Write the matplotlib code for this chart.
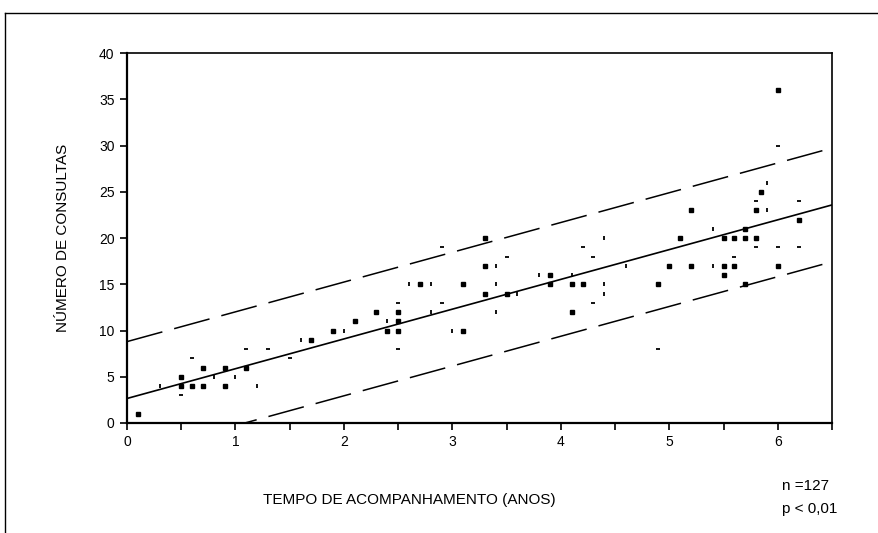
import numpy as np
import matplotlib
matplotlib.use("Agg")
import matplotlib.pyplot as plt
from matplotlib.lines import Line2D

plt.rcParams['font.family'] = ['Liberation Sans', 'DejaVu Sans']

# points printed as filled squares
sq_x = [0.1, 0.5, 0.5, 0.6, 0.7, 0.7, 0.9, 0.9, 1.1, 1.7, 1.9, 2.1, 2.3, 2.4,
        2.5, 2.5, 2.5, 2.7, 3.1, 3.1, 3.3, 3.3, 3.3, 3.5, 3.9, 3.9, 4.1, 4.1,
        4.2, 4.9, 5.0, 5.1, 5.2, 5.2, 5.5, 5.5, 5.5, 5.6, 5.6, 5.7, 5.7, 5.7,
        5.8, 5.8, 5.85, 6.0, 6.0, 6.2]
sq_y = [1, 5, 4, 4, 6, 4, 6, 4, 6, 9, 10, 11, 12, 10,
        12, 11, 10, 15, 15, 10, 20, 17, 14, 14, 16, 15, 15, 12,
        15, 15, 17, 20, 23, 17, 20, 17, 16, 20, 17, 21, 20, 15,
        20, 23, 25, 36, 17, 22]

# points printed as small vertical ticks
tk_x = [0.3, 0.8, 1.0, 1.2, 1.6, 2.0, 2.4, 2.6, 2.8, 2.8, 3.0, 3.4, 3.4, 3.4,
        3.6, 3.8, 4.1, 4.4, 4.4, 4.4, 4.6, 5.4, 5.4, 5.9, 5.9]
tk_y = [4, 5, 5, 4, 9, 10, 11, 15, 15, 12, 10, 17, 15, 12,
        14, 16, 16, 20, 15, 14, 17, 21, 17, 26, 23]

# points printed as small horizontal dashes
ds_x = [0.5, 0.6, 1.1, 1.3, 1.5, 2.5, 2.5, 2.9, 2.9, 3.5, 4.2, 4.3, 4.3,
        4.9, 5.6, 5.8, 5.8, 6.0, 6.0, 6.2, 6.2]
ds_y = [3, 7, 8, 8, 7, 13, 8, 19, 13, 18, 19, 18, 13,
        8, 18, 24, 19, 30, 19, 24, 19]

# fitted line and prediction band
intercept = 2.65
slope = 3.22
band = 6.15

x_ticks = np.arange(0, 6.51, 0.5)
x_labels = [str(int(t)) if t == int(t) else '' for t in x_ticks]
y_ticks = np.arange(0, 41, 5)

fig = plt.figure(figsize=(8.79, 5.33), dpi=100)
ax = fig.add_axes([0.1445, 0.2064, 0.802, 0.694])

xx = np.linspace(0, 6.5, 200)
fit = intercept + slope * xx
ax.plot(xx, fit, color='black', lw=1.2)
ax.plot(xx, fit + band, color='black', lw=1.1, dashes=(24, 8))
ax.plot(xx, fit - band, color='black', lw=1.1, dashes=(24, 8))

ax.plot(sq_x, sq_y, 's', color='black', markersize=3, linestyle='none')
ax.plot(tk_x, tk_y, '|', color='black', markersize=3.5, markeredgewidth=1.3,
        linestyle='none')
ax.plot(ds_x, ds_y, '_', color='black', markersize=3.5, markeredgewidth=1.3,
        linestyle='none')

ax.set_xlim(0, 6.5)
ax.set_ylim(0, 40)
ax.set_xticks(x_ticks)
ax.set_xticklabels(x_labels)
ax.set_yticks(y_ticks)
ax.tick_params(direction='out', length=5, width=1.2, labelsize=10, pad=4)
for s in ['left', 'bottom']:
    ax.spines[s].set_linewidth(1.6)
for s in ['top', 'right']:
    ax.spines[s].set_linewidth(1.2)

ax.set_ylabel('NÚMERO DE CONSULTAS', fontsize=11)
ax.yaxis.set_label_coords(-0.081, 0.5)
ax.set_xlabel('TEMPO DE ACOMPANHAMENTO (ANOS)', fontsize=11)
ax.xaxis.set_label_coords(0.401, -0.189)

fig.text(782 / 879, 1 - 486 / 533, 'n =127', fontsize=11, va='center')
fig.text(782 / 879, 1 - 509 / 533, 'p < 0,01', fontsize=11, va='center')

# outer frame (left and top edges only)
fig.add_artist(Line2D([5 / 879, 5 / 879], [0, 1 - 13 / 533], color='black', lw=1.0))
fig.add_artist(Line2D([5 / 879, 1], [1 - 13 / 533, 1 - 13 / 533], color='black', lw=1.0))

fig.savefig('out.png', dpi=100)
